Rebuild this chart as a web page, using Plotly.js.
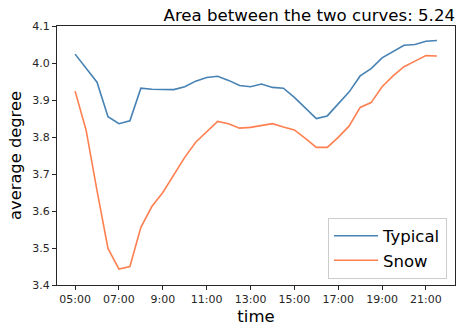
<!DOCTYPE html>
<html>
<head>
<meta charset="utf-8">
<script src="https://cdn.plot.ly/plotly-3.0.1.min.js"></script>
<style>html,body{margin:0;padding:0;background:#fff;}#chart{width:456px;height:329px;}</style>
</head>
<body>
<div id="chart"></div>
<script>
const times = ["05:00","05:30","06:00","06:30","07:00","07:30","08:00","08:30","09:00","09:30",
  "10:00","10:30","11:00","11:30","12:00","12:30","13:00","13:30","14:00","14:30",
  "15:00","15:30","16:00","16:30","17:00","17:30","18:00","18:30","19:00","19:30",
  "20:00","20:30","21:00","21:30"];
const typical = [4.024,3.987,3.948,3.855,3.836,3.844,3.932,3.929,3.929,3.928,
  3.936,3.951,3.961,3.964,3.953,3.939,3.936,3.943,3.934,3.932,
  3.907,3.879,3.850,3.857,3.891,3.922,3.965,3.985,4.014,4.031,
  4.048,4.050,4.059,4.061];
const snow = [3.924,3.819,3.655,3.499,3.443,3.450,3.556,3.612,3.650,3.699,
  3.745,3.786,3.814,3.842,3.836,3.824,3.826,3.832,3.836,3.827,
  3.819,3.796,3.772,3.772,3.799,3.830,3.880,3.893,3.936,3.965,
  3.990,4.005,4.020,4.019];
const tickLabels = ["05:00","07:00","9:00","11:00","13:00","15:00","17:00","19:00","21:00"];
const tickTimes = ["05:00","07:00","09:00","11:00","13:00","15:00","17:00","19:00","21:00"];
const yTicks = [3.4,3.5,3.6,3.7,3.8,3.9,4.0,4.1];
const titleText = "Area between the two curves: 5.24";

function toHours(t){const p=t.split(":");return +p[0] + (+p[1])/60;}
const xs = times.map(toHours);
const xmin = xs[0], xmax = xs[xs.length-1], pad = (xmax-xmin)*0.05;
const font = "DejaVu Sans, sans-serif";

const data = [
  {x: xs, y: typical, name: "Typical", mode: "lines", line: {color: "#4682b4", width: 1.6}},
  {x: xs, y: snow, name: "Snow", mode: "lines", line: {color: "#ff7f50", width: 1.6}}
];
const layout = {
  width: 456, height: 329,
  margin: {l: 57, r: 1, t: 26, b: 44, pad: 0},
  paper_bgcolor: "#fff", plot_bgcolor: "#fff",
  font: {family: font, color: "#000"},
  title: {text: titleText, x: 1, xref: "paper", xanchor: "right", y: 1, yref: "paper", yanchor: "bottom",
    pad: {b: 5}, font: {size: 16.6, family: font, color: "#000"}},
  xaxis: {range: [xmin-pad, xmax+pad], tickvals: tickTimes.map(toHours), ticktext: tickLabels,
    showgrid: false, zeroline: false, showline: true, mirror: true, linecolor: "#262626", linewidth: 1,
    ticks: "outside", ticklen: 4, tickcolor: "#262626", tickfont: {size: 11, family: font, color: "#262626"},
    title: {text: "time", font: {size: 16.5, family: font, color: "#000"}, standoff: 5}},
  yaxis: {range: [3.4, 4.1], tickvals: yTicks, ticktext: yTicks.map(v => v.toFixed(1)),
    showgrid: false, zeroline: false, showline: true, mirror: true, linecolor: "#262626", linewidth: 1,
    ticks: "outside", ticklen: 4, tickcolor: "#262626", tickfont: {size: 11, family: font, color: "#262626"},
    title: {text: "average degree", font: {size: 16.3, family: font, color: "#000"}, standoff: 6}},
  showlegend: true,
  legend: {x: 0.98, xanchor: "right", y: 0.025, yanchor: "bottom", bgcolor: "rgba(255,255,255,0.8)",
    bordercolor: "#cccccc", borderwidth: 1, itemwidth: 44, font: {size: 16.5, family: font, color: "#000"}}
};
Plotly.newPlot("chart", data, layout, {staticPlot: true, displayModeBar: false});
</script>
</body>
</html>
